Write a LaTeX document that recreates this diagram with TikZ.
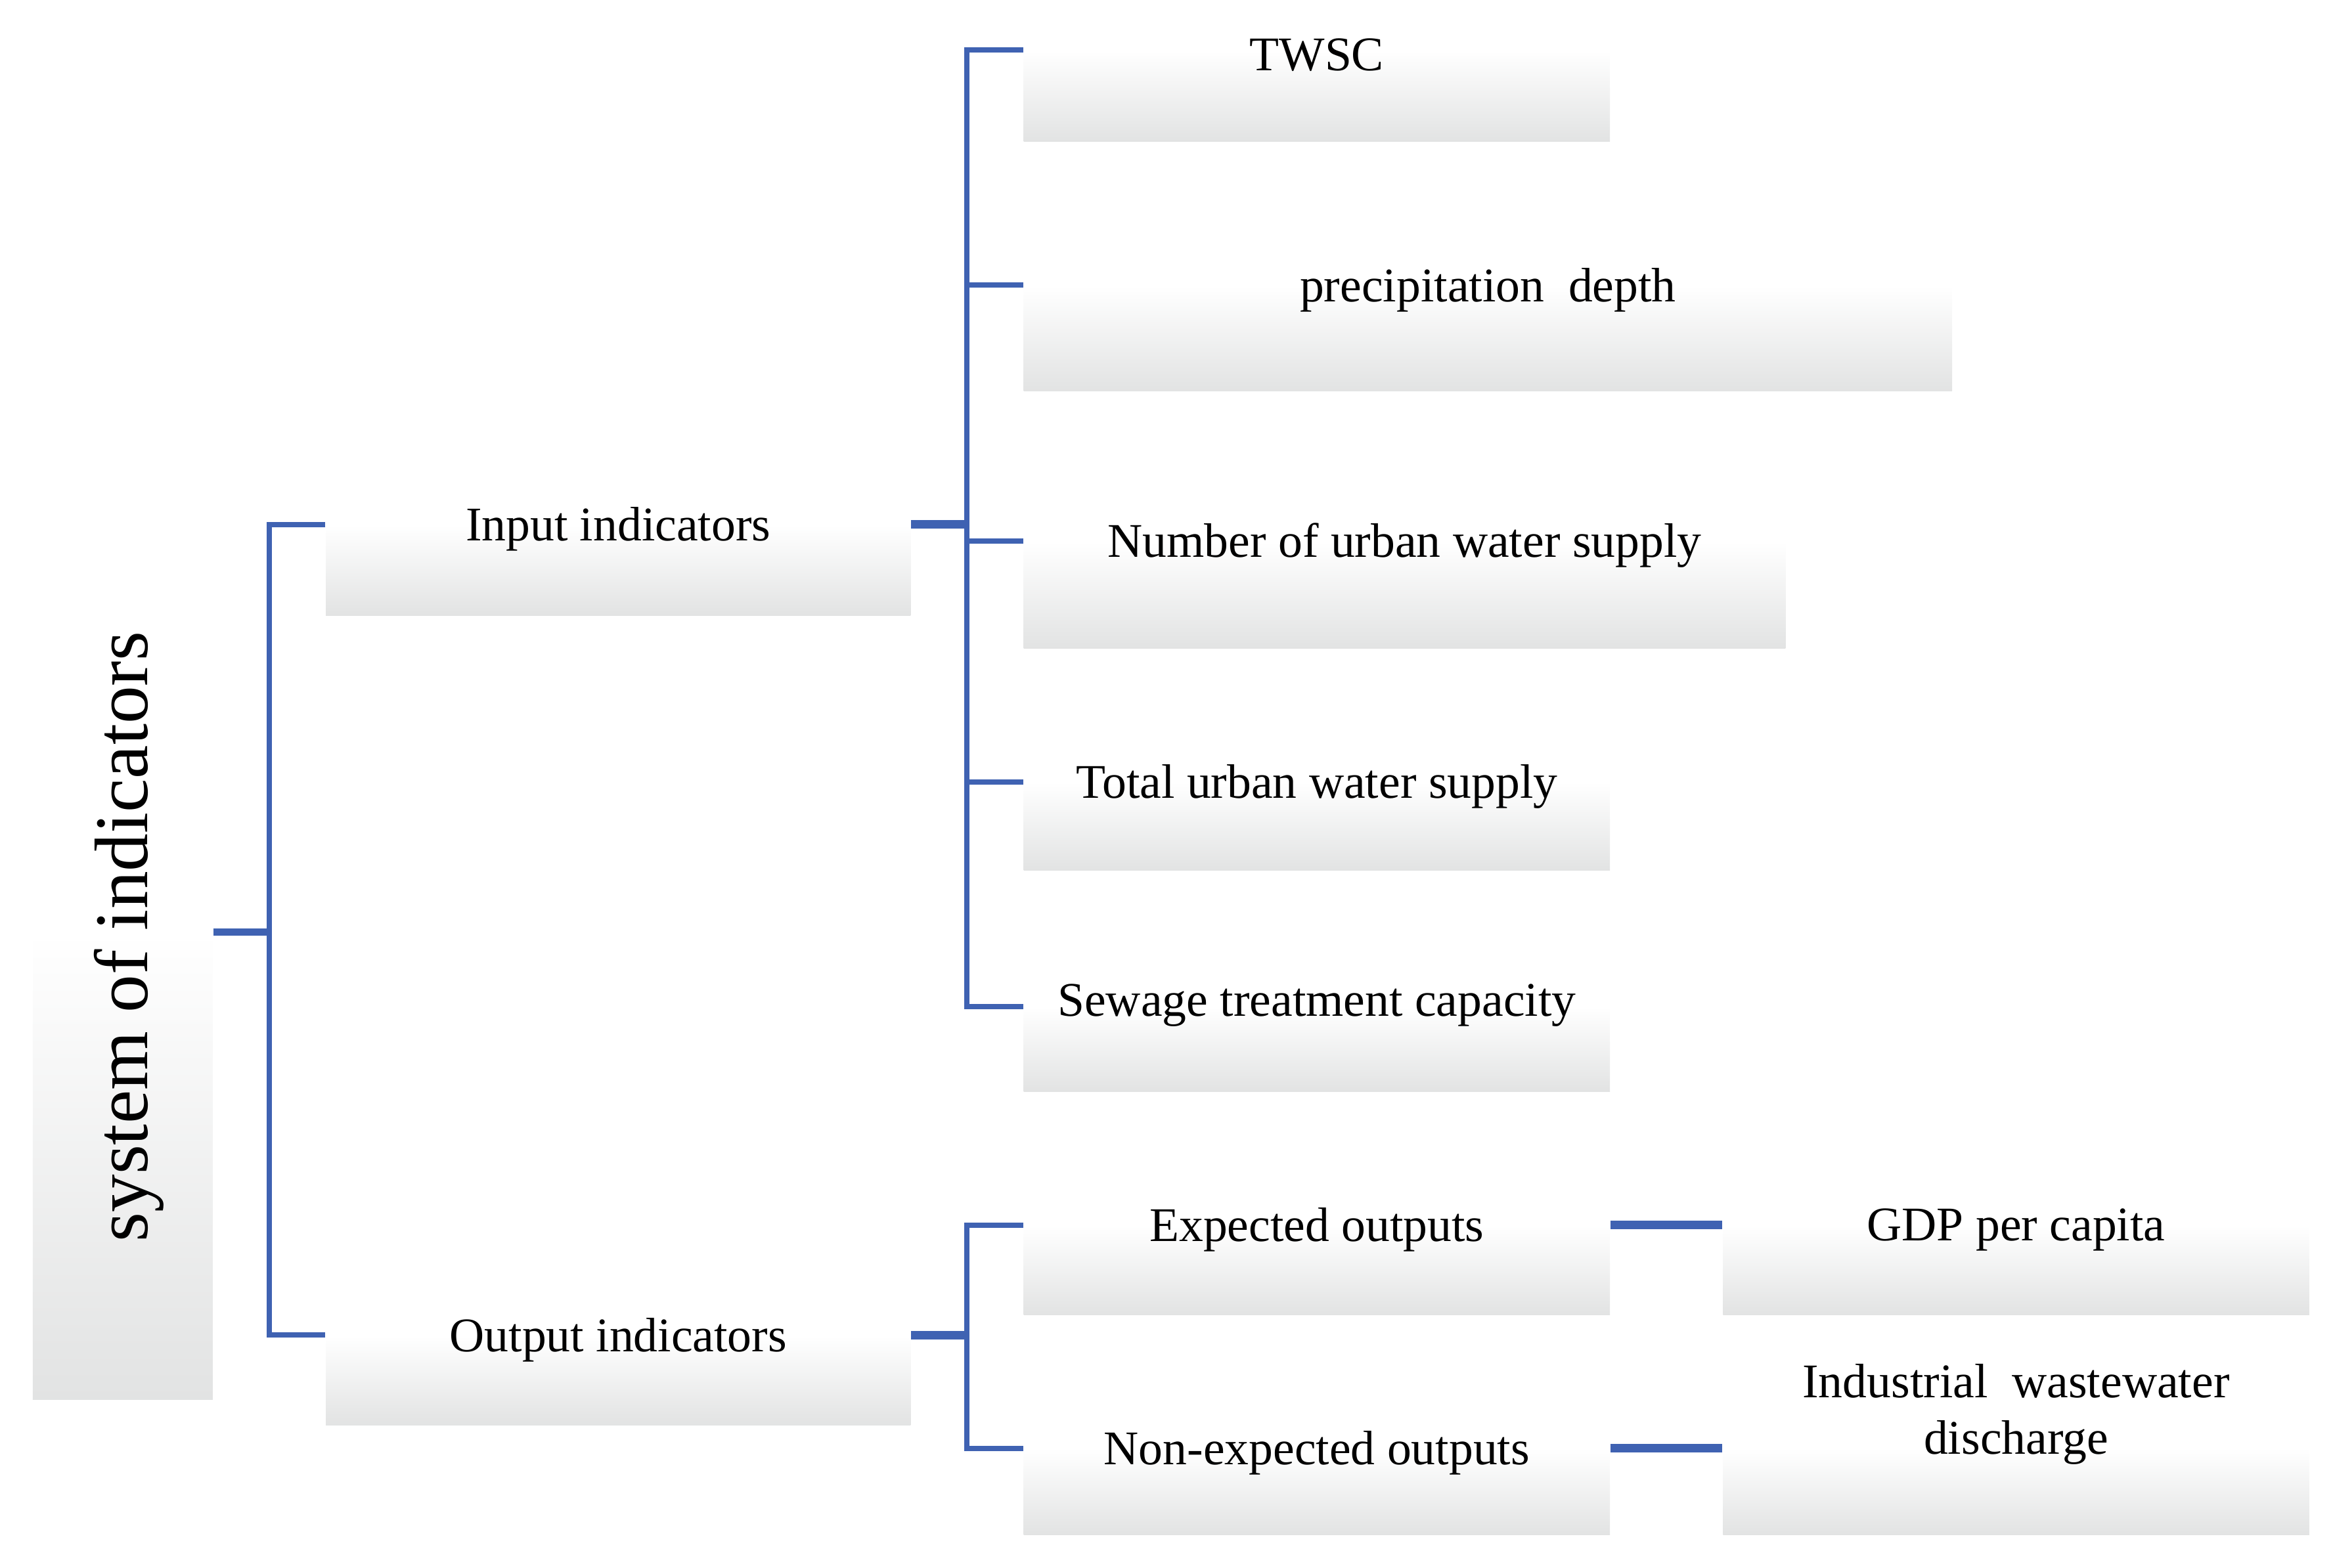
\documentclass[tikz,border=0pt]{standalone}
\usepackage{fontspec}
\setmainfont{Liberation Serif}
\usepackage{tikz}
\usetikzlibrary{positioning, fit, backgrounds}
\usepackage{xcolor}
\definecolor{blueLine}{RGB}{63,98,178}
\definecolor{grayBox}{RGB}{226,227,227}

\begin{document}
\begin{tikzpicture}[
    x=0.02cm, y=-0.02cm,
    shadebox/.style={rectangle, inner sep=0pt, top color=white, bottom color=grayBox, draw=none},
    lbl/.style={align=center, inner sep=0pt, yshift=-1.8pt, font=\fontsize{18.5}{21.6}\selectfont},
    link/.style={draw=blueLine, line width=2pt},
    heavylink/.style={draw=blueLine, line width=3.3pt}
]
\useasboundingbox (0,0) rectangle (1568,1054);

% shaded boxes
\node[shadebox, fit={(22,627) (143,941)}] (sys) {};
\node[shadebox, fit={(219,353) (612,414)}] (inp) {};
\node[shadebox, fit={(219,898) (612,958)}] (outp) {};
\node[shadebox, fit={(688,34) (1082,95)}] (twsc) {};
\node[shadebox, fit={(688,192) (1312,263)}] (precip) {};
\node[shadebox, fit={(688,364) (1200,436)}] (number) {};
\node[shadebox, fit={(688,526) (1082,585)}] (total) {};
\node[shadebox, fit={(688,677) (1082,734)}] (sewage) {};
\node[shadebox, fit={(688,824) (1082,884)}] (expc) {};
\node[shadebox, fit={(688,974) (1082,1032)}] (nonexp) {};
\node[shadebox, fit={(1158,824) (1552,884)}] (gdp) {};
\node[shadebox, fit={(1158,974) (1552,1032)}] (indus) {};

\coordinate (busA) at (181,0);
\coordinate (busB) at (650,0);

% connectors
\draw[link, line width=2.6pt] (sys.north east) -- (sys.north east -| busA);
\draw[link] (inp.north west) -- (inp.north west -| busA) -- (outp.north west -| busA) -- (outp.north west);
\draw[heavylink] (inp.north east) -- (inp.north east -| busB);
\draw[link] (twsc.north west) -- (twsc.north west -| busB) -- (sewage.north west -| busB) -- (sewage.north west);
\foreach \n in {precip, number, total}
    \draw[link] (\n.north west) -- (\n.north west -| busB);
\draw[heavylink] (outp.north east) -- (outp.north east -| busB);
\draw[link] (expc.north west) -- (expc.north west -| busB) -- (nonexp.north west -| busB) -- (nonexp.north west);
\draw[heavylink] (expc.north east) -- (gdp.north west);
\draw[heavylink] (nonexp.north east) -- (indus.north west);

% labels
\node[lbl, rotate=90, yshift=1.8pt, font=\fontsize{29}{34}\selectfont] (sys-t) at ([xshift=0.15cm]sys.north) {system of indicators};
\node[lbl] (inp-t) at (inp.north) {Input indicators};
\node[lbl] (outp-t) at (outp.north) {Output indicators};
\node[lbl] (twsc-t) at (twsc.north) {TWSC};
\node[lbl] (precip-t) at (precip.north) {precipitation\ \ depth};
\node[lbl] (number-t) at (number.north) {Number of urban water supply};
\node[lbl] (total-t) at (total.north) {Total urban water supply};
\node[lbl] (sewage-t) at ([yshift=0.08cm]sewage.north) {Sewage treatment capacity};
\node[lbl] (expc-t) at (expc.north) {Expected outputs};
\node[lbl] (nonexp-t) at (nonexp.north) {Non-expected outputs};
\node[lbl] (gdp-t) at (gdp.north) {GDP per capita};
\node[lbl] (indus-t) at ([yshift=0.52cm]indus.north) {Industrial\ \ wastewater\\discharge};
\end{tikzpicture}
\end{document}
